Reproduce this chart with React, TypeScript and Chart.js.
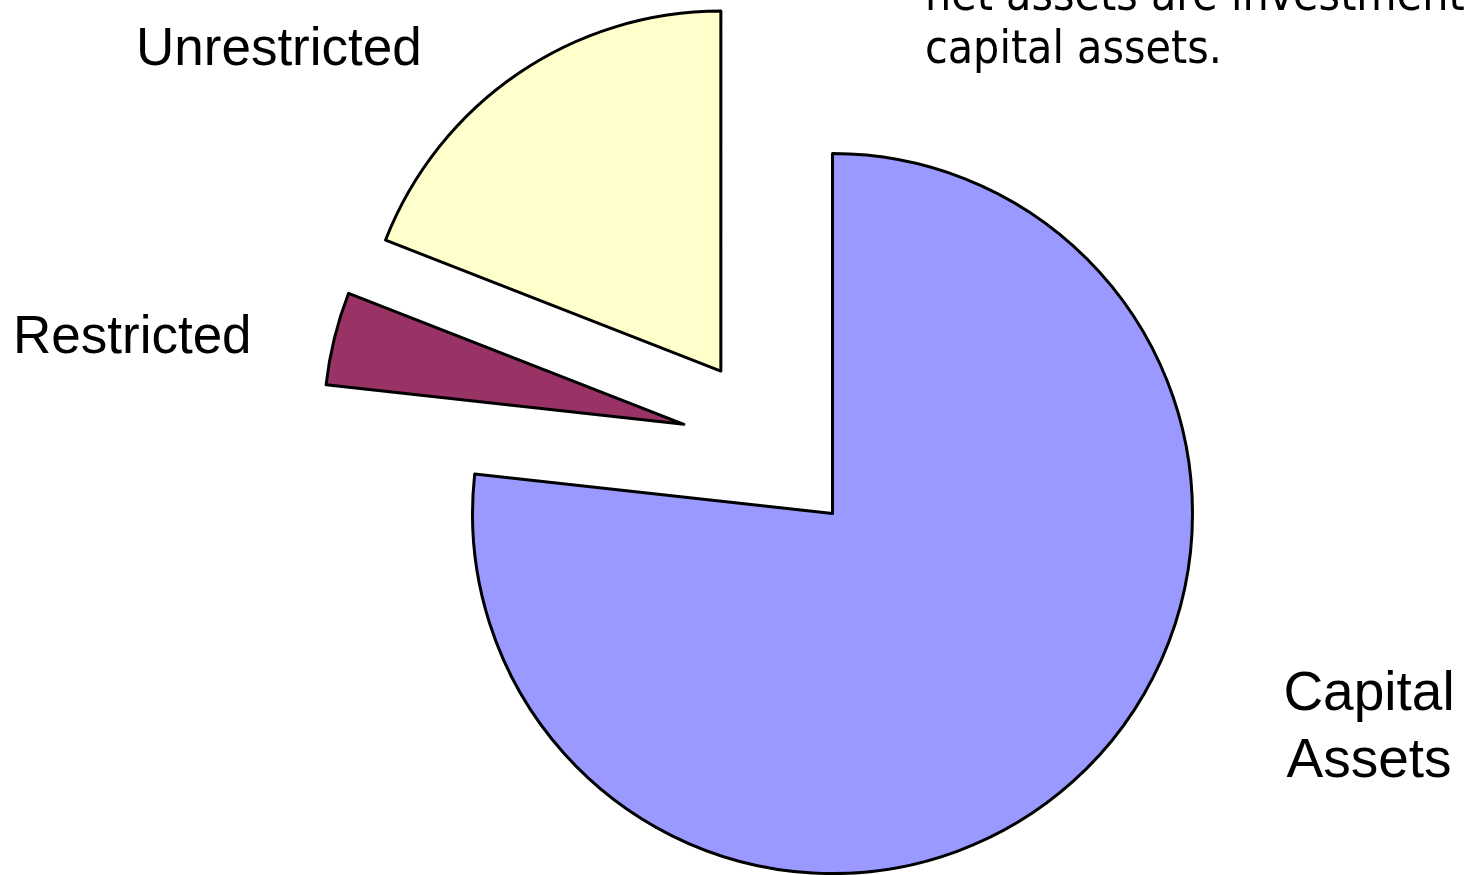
import React, { useEffect, useRef } from "react";
import { Chart, registerables } from "chart.js";

Chart.register(...registerables);

// ---- data ----
const categories = ["Capital Assets", "Restricted", "Unrestricted"];
const shares = [76.75, 4.18, 19.07];
const sliceColors = ["#9999FF", "#993366", "#FFFFCC"];
const noteLines = ["net assets are investment in", "capital assets."];

const EXPLODE = 90.7;

const explodePlugin = {
  id: "explodeSlices",
  afterDatasetUpdate(chart: any, args: any) {
    const meta = chart.getDatasetMeta(args.index);
    meta.data.forEach((arc: any) => {
      const mid = (arc.startAngle + arc.endAngle) / 2;
      arc.x += Math.cos(mid) * EXPLODE;
      arc.y += Math.sin(mid) * EXPLODE;
    });
  },
};

const textPlugin = {
  id: "sliceText",
  afterDraw(chart: any) {
    const ctx = chart.ctx;
    ctx.save();
    ctx.fillStyle = "#000";
    ctx.textBaseline = "alphabetic";
    ctx.font = '53px "Liberation Sans", Arial, sans-serif';
    ctx.textAlign = "left";
    ctx.fillText(categories[2], 136, 65);
    ctx.fillText(categories[1], 13, 353);
    ctx.textAlign = "center";
    ctx.font = '55px "Liberation Sans", Arial, sans-serif';
    const capParts = categories[0].split(" ");
    ctx.fillText(capParts[0], 1369, 710);
    ctx.fillText(capParts[1], 1369, 777);
    ctx.textAlign = "left";
    ctx.font = '46px "DejaVu Sans Condensed", "DejaVu Sans", sans-serif';
    ctx.fillText(noteLines[0], 925, 10);
    ctx.fillText(noteLines[1], 925, 63);
    ctx.restore();
  },
};

export default function App() {
  const canvasRef = useRef<HTMLCanvasElement | null>(null);

  useEffect(() => {
    const canvas = canvasRef.current;
    if (!canvas) return;
    const chart = new Chart(canvas, {
      type: "pie",
      data: {
        labels: categories,
        datasets: [
          {
            data: shares,
            backgroundColor: sliceColors,
            borderColor: "#000000",
            borderWidth: 3,
            borderJoinStyle: "round",
          } as any,
        ],
      },
      options: {
        animation: false,
        responsive: false,
        devicePixelRatio: 1,
        events: [],
        radius: 360,
        layout: { padding: { left: 78, right: 0, top: 17, bottom: 0 } },
        plugins: {
          legend: { display: false },
          tooltip: { enabled: false },
          title: { display: false },
        },
      } as any,
      plugins: [explodePlugin, textPlugin],
    });
    return () => chart.destroy();
  }, []);

  return (
    <div style={{ position: "absolute", left: 0, top: 0, width: 1466, height: 875, background: "#fff" }}>
      <canvas ref={canvasRef} width={1466} height={875} style={{ display: "block" }} />
    </div>
  );
}
